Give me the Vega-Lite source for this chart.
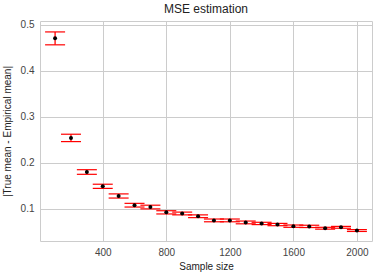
{
  "$schema": "https://vega.github.io/schema/vega-lite/v6.json",
  "autosize": {"type": "none"},
  "width": 332,
  "height": 220,
  "padding": {"left": 40, "top": 21, "right": 8, "bottom": 33},
  "background": "white",
  "title": {"text": "MSE estimation", "font": "Liberation Sans", "fontSize": 12, "fontWeight": "normal", "color": "#222222", "offset": 4},
  "config": {
    "view": {"stroke": "#cccccc", "strokeWidth": 1},
    "axis": {
      "labelFont": "Liberation Sans", "labelFontSize": 10, "labelColor": "#444444",
      "titleFont": "Liberation Sans", "titleFontSize": 10, "titleFontWeight": "normal", "titleColor": "#222222",
      "gridColor": "#cccccc", "gridWidth": 1, "domain": false, "ticks": false, "labelPadding": 6
    }
  },
  "data": {"values": [
    {"n": 100, "m": 0.470, "lo": 0.456, "hi": 0.484},
    {"n": 200, "m": 0.254, "lo": 0.246, "hi": 0.262},
    {"n": 300, "m": 0.180, "lo": 0.175, "hi": 0.185},
    {"n": 400, "m": 0.149, "lo": 0.1445, "hi": 0.1535},
    {"n": 500, "m": 0.128, "lo": 0.1235, "hi": 0.1325},
    {"n": 600, "m": 0.108, "lo": 0.104, "hi": 0.112},
    {"n": 700, "m": 0.104, "lo": 0.100, "hi": 0.108},
    {"n": 800, "m": 0.0925, "lo": 0.089, "hi": 0.096},
    {"n": 900, "m": 0.090, "lo": 0.087, "hi": 0.093},
    {"n": 1000, "m": 0.084, "lo": 0.081, "hi": 0.087},
    {"n": 1100, "m": 0.075, "lo": 0.072, "hi": 0.078},
    {"n": 1200, "m": 0.075, "lo": 0.072, "hi": 0.078},
    {"n": 1300, "m": 0.0706, "lo": 0.0676, "hi": 0.0736},
    {"n": 1400, "m": 0.0684, "lo": 0.0659, "hi": 0.0709},
    {"n": 1500, "m": 0.066, "lo": 0.0635, "hi": 0.0685},
    {"n": 1600, "m": 0.0625, "lo": 0.060, "hi": 0.065},
    {"n": 1700, "m": 0.062, "lo": 0.0595, "hi": 0.0645},
    {"n": 1800, "m": 0.058, "lo": 0.056, "hi": 0.060},
    {"n": 1900, "m": 0.060, "lo": 0.058, "hi": 0.062},
    {"n": 2000, "m": 0.053, "lo": 0.051, "hi": 0.055}
  ]},
  "encoding": {
    "x": {"field": "n", "type": "quantitative",
      "scale": {"domain": [5, 2095], "nice": false, "zero": false},
      "axis": {"values": [400, 800, 1200, 1600, 2000], "format": "d", "title": "Sample size", "titlePadding": 4}}
  },
  "layer": [
    {
      "mark": {"type": "rule", "color": "red", "strokeWidth": 1.3},
      "encoding": {
        "y": {"field": "lo", "type": "quantitative",
          "scale": {"domain": [0.0303, 0.5077], "nice": false, "zero": false},
          "axis": {"values": [0.1, 0.2, 0.3, 0.4, 0.5], "format": ".1f", "title": "|True mean - Empirical mean|", "titlePadding": 8}},
        "y2": {"field": "hi"}
      }
    },
    {
      "mark": {"type": "tick", "orient": "horizontal", "color": "red", "size": 20, "thickness": 1.2, "opacity": 1},
      "encoding": {"y": {"field": "lo", "type": "quantitative"}}
    },
    {
      "mark": {"type": "tick", "orient": "horizontal", "color": "red", "size": 20, "thickness": 1.2, "opacity": 1},
      "encoding": {"y": {"field": "hi", "type": "quantitative"}}
    },
    {
      "mark": {"type": "point", "filled": true, "color": "black", "size": 16, "opacity": 1, "shape": "circle"},
      "encoding": {"y": {"field": "m", "type": "quantitative"}}
    }
  ]
}
